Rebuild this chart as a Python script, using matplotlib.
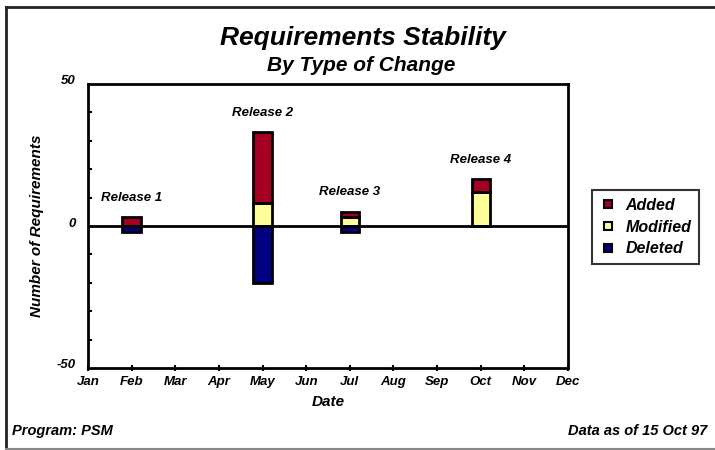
import matplotlib
matplotlib.use('Agg')
import matplotlib.pyplot as plt
import matplotlib.transforms as mtransforms
from matplotlib.lines import Line2D
import numpy as np

plt.rcParams['font.family'] = ['Liberation Sans', 'DejaVu Sans']
plt.rcParams['font.weight'] = 'bold'
plt.rcParams['font.style'] = 'italic'
plt.rcParams['axes.labelweight'] = 'bold'

# data
months = ['Jan', 'Feb', 'Mar', 'Apr', 'May', 'Jun',
          'Jul', 'Aug', 'Sep', 'Oct', 'Nov', 'Dec']
release_months = ['Feb', 'May', 'Jul', 'Oct']
release_names = ['Release 1', 'Release 2', 'Release 3', 'Release 4']
added = [3, 25, 2, 4.5]
modified = [0, 8, 3, 12]
deleted = [2, 20, 2, 0]

c_added = '#A50021'
c_mod = '#FFFF99'
c_del = '#000080'

fig = plt.figure(figsize=(7.15, 4.5), dpi=100)
ax = fig.add_axes([88/715, 1 - 368/450, 480/715, 284/450])

x = np.array([months.index(m) for m in release_months])
added = np.array(added, dtype=float)
modified = np.array(modified, dtype=float)
deleted = np.array(deleted, dtype=float)
w = 0.42

ax.axhline(0, color='black', lw=2, zorder=1)
ax.bar(x, modified, w, color=c_mod, edgecolor='black', lw=2, zorder=3)
ax.bar(x, added, w, bottom=modified, color=c_added, edgecolor='black', lw=2, zorder=3)
ax.bar(x, -deleted, w, color=c_del, edgecolor='black', lw=2, zorder=3)

tops = added + modified
for xi, t, name in zip(x, tops, release_names):
    ax.annotate(name, (xi, t), xytext=(0, 14), textcoords='offset points',
                ha='center', va='center', fontsize=9.5)

ax.set_xlim(0, 11)
ax.set_ylim(-50, 50)
ax.set_xticks(range(12))
ax.set_xticklabels(months, fontsize=9.5)
ax.set_yticks([-50, 0, 50])
ax.set_yticklabels(['-50', '0', '50'], fontsize=9.5)
ax.set_yticks(np.arange(-40, 50, 10), minor=True)
ax.tick_params(axis='y', which='both', direction='in', length=3, width=1.5, pad=9)
ax.tick_params(axis='y', which='major', length=0)
ax.tick_params(axis='x', direction='inout', length=5, width=1.5, pad=3)
offset = mtransforms.ScaledTranslation(0, 4/100, fig.dpi_scale_trans)
for lab in ax.get_yticklabels():
    lab.set_transform(lab.get_transform() + offset)
for s in ax.spines.values():
    s.set_linewidth(2)

ax.set_xlabel('Date', fontsize=11, labelpad=5)
ax.set_ylabel('Number of Requirements', fontsize=11, labelpad=9)

fig.text(0.508, 1 - 37.5/450, 'Requirements Stability', ha='center', va='center', fontsize=19)
fig.text(0.505, 1 - 65.5/450, 'By Type of Change', ha='center', va='center', fontsize=15)

handles = [Line2D([], [], ls='none', marker='s', markersize=6, markerfacecolor=c,
                  markeredgecolor='black', markeredgewidth=1.5)
           for c in (c_added, c_mod, c_del)]
leg = fig.legend(handles, ['Added', 'Modified', 'Deleted'], loc='upper left',
                 bbox_to_anchor=(592/715, 1 - 190/450), fontsize=11.5,
                 frameon=True, fancybox=False, handlelength=1, handletextpad=0.6,
                 labelspacing=0.42, borderpad=0.5, borderaxespad=0)
leg.get_frame().set_edgecolor('black')
leg.get_frame().set_linewidth(1.5)

fig.text(12/715, 1 - 431/450, 'Program: PSM', ha='left', va='center', fontsize=10.5)
fig.text(707/715, 1 - 431/450, 'Data as of 15 Oct 97', ha='right', va='center', fontsize=10.5)

# outer frame: dark top/left, gray bottom
fig.add_artist(Line2D([6/715, 6/715], [1 - 448/450, 1 - 7/450], color='#222222', lw=2,
                      transform=fig.transFigure))
fig.add_artist(Line2D([6/715, 1], [1 - 7/450, 1 - 7/450], color='#222222', lw=2,
                      transform=fig.transFigure))
fig.add_artist(Line2D([6/715, 1], [1 - 448.5/450, 1 - 448.5/450], color='#888888', lw=1.5,
                      transform=fig.transFigure))

fig.savefig('out.png', dpi=100)
